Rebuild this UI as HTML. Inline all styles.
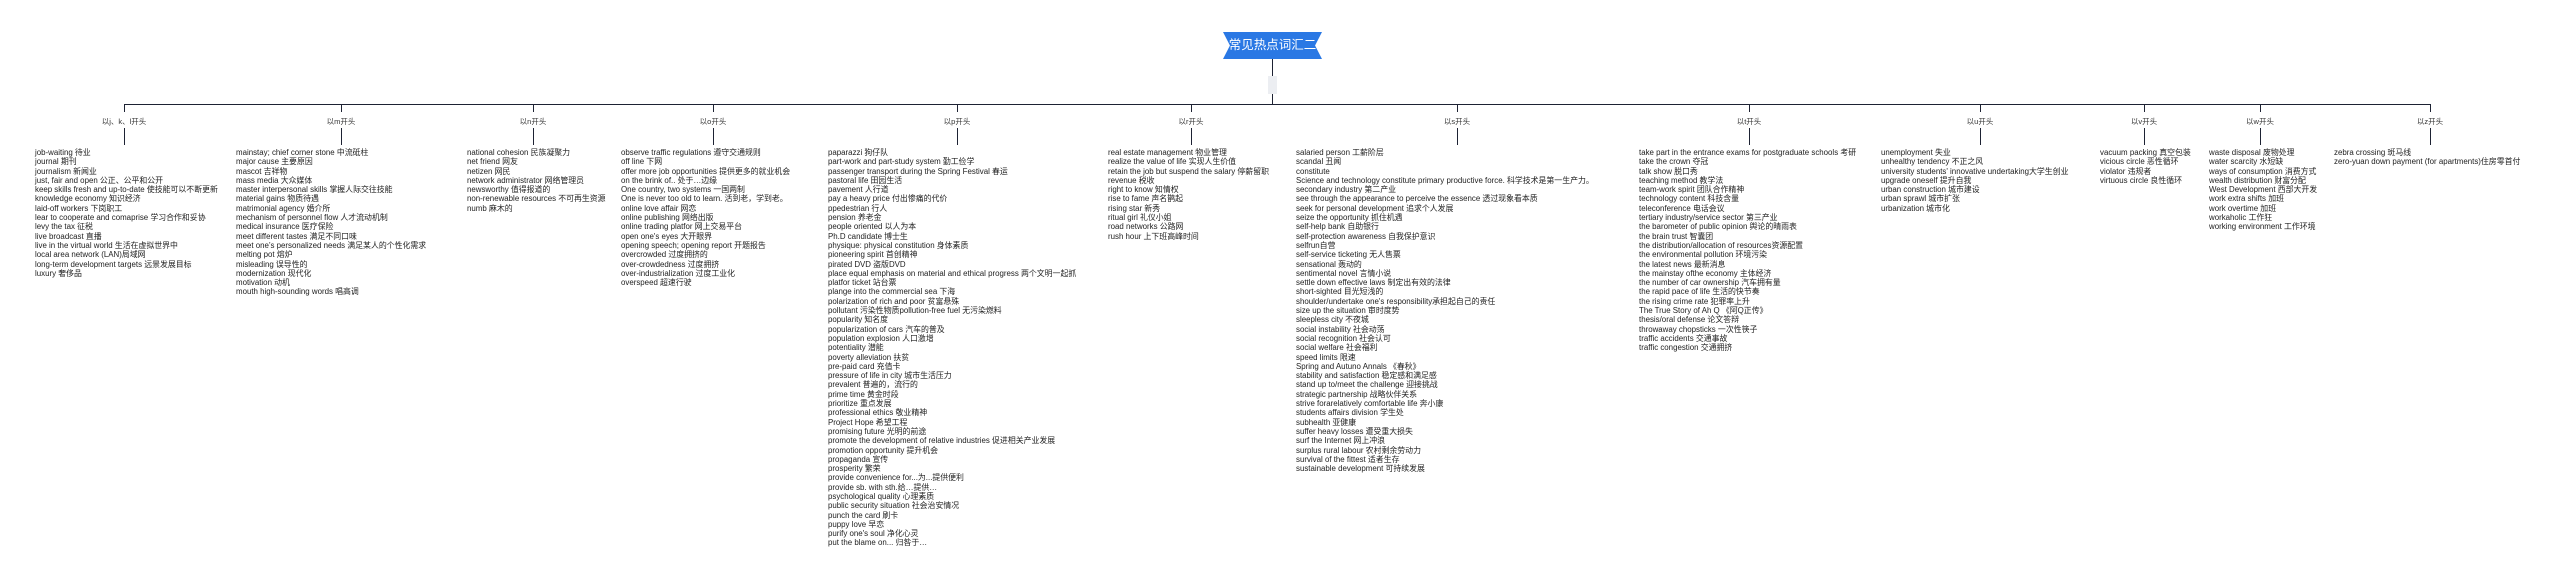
<!DOCTYPE html>
<html><head><meta charset="utf-8"><style>
body{margin:0;width:2560px;height:583px;background:#fff;position:relative;overflow:hidden;font-family:"Liberation Sans","Noto Sans CJK SC",sans-serif;}
.h{position:absolute;background:#1d2233;}
.lb{position:absolute;font-size:7.5px;color:#333;transform:translateX(-50%);white-space:nowrap;top:116px;}
.col{position:absolute;top:148px;font-size:7.9px;line-height:9.3px;color:#222;white-space:nowrap;}
.root{position:absolute;left:1223px;top:32px;width:99px;height:27px;background:#2a78e4;color:#fff;font-size:12.5px;line-height:27px;text-align:center;clip-path:polygon(0 0,100% 0,93% 50%,100% 100%,0 100%,7% 50%);}
</style></head><body>
<div class="root">常见热点词汇二</div>
<div class="h" style="left:1272px;top:59px;width:1px;height:45px"></div>
<div style="position:absolute;left:1268px;top:76px;width:9px;height:18px;background:#eceef2"></div>
<div class="h" style="left:124px;top:104px;width:2307px;height:1px"></div>

<div class="h" style="left:124px;top:104px;width:1px;height:8px"></div><div class="h" style="left:124px;top:128px;width:1px;height:17px"></div><div class="lb" style="left:124px">以j、k、l开头</div>
<div class="h" style="left:341px;top:104px;width:1px;height:8px"></div><div class="h" style="left:341px;top:128px;width:1px;height:17px"></div><div class="lb" style="left:341px">以m开头</div>
<div class="h" style="left:533px;top:104px;width:1px;height:8px"></div><div class="h" style="left:533px;top:128px;width:1px;height:17px"></div><div class="lb" style="left:533px">以n开头</div>
<div class="h" style="left:713px;top:104px;width:1px;height:8px"></div><div class="h" style="left:713px;top:128px;width:1px;height:17px"></div><div class="lb" style="left:713px">以o开头</div>
<div class="h" style="left:957px;top:104px;width:1px;height:8px"></div><div class="h" style="left:957px;top:128px;width:1px;height:17px"></div><div class="lb" style="left:957px">以p开头</div>
<div class="h" style="left:1191px;top:104px;width:1px;height:8px"></div><div class="h" style="left:1191px;top:128px;width:1px;height:17px"></div><div class="lb" style="left:1191px">以r开头</div>
<div class="h" style="left:1457px;top:104px;width:1px;height:8px"></div><div class="h" style="left:1457px;top:128px;width:1px;height:17px"></div><div class="lb" style="left:1457px">以s开头</div>
<div class="h" style="left:1749px;top:104px;width:1px;height:8px"></div><div class="h" style="left:1749px;top:128px;width:1px;height:17px"></div><div class="lb" style="left:1749px">以t开头</div>
<div class="h" style="left:1980px;top:104px;width:1px;height:8px"></div><div class="h" style="left:1980px;top:128px;width:1px;height:17px"></div><div class="lb" style="left:1980px">以u开头</div>
<div class="h" style="left:2144px;top:104px;width:1px;height:8px"></div><div class="h" style="left:2144px;top:128px;width:1px;height:17px"></div><div class="lb" style="left:2144px">以v开头</div>
<div class="h" style="left:2260px;top:104px;width:1px;height:8px"></div><div class="h" style="left:2260px;top:128px;width:1px;height:17px"></div><div class="lb" style="left:2260px">以w开头</div>
<div class="h" style="left:2430px;top:104px;width:1px;height:8px"></div><div class="h" style="left:2430px;top:128px;width:1px;height:17px"></div><div class="lb" style="left:2430px">以z开头</div>

<div class="col" style="left:35px">job-waiting 待业<br>journal 期刊<br>journalism 新闻业<br>just, fair and open 公正、公平和公开<br>keep skills fresh and up-to-date 使技能可以不断更新<br>knowledge economy 知识经济<br>laid-off workers 下岗职工<br>lear to cooperate and comaprise 学习合作和妥协<br>levy the tax 征税<br>live broadcast 直播<br>live in the virtual world 生活在虚拟世界中<br>local area network (LAN)局域网<br>long-term development targets 远景发展目标<br>luxury 奢侈品</div>

<div class="col" style="left:236px">mainstay; chief corner stone 中流砥柱<br>major cause 主要原因<br>mascot 吉祥物<br>mass media 大众媒体<br>master interpersonal skills 掌握人际交往技能<br>material gains 物质待遇<br>matrimonial agency 婚介所<br>mechanism of personnel flow 人才流动机制<br>medical insurance 医疗保险<br>meet different tastes 满足不同口味<br>meet one’s personalized needs 满足某人的个性化需求<br>melting pot 熔炉<br>misleading 误导性的<br>modernization 现代化<br>motivation 动机<br>mouth high-sounding words 唱高调</div>

<div class="col" style="left:467px">national cohesion 民族凝聚力<br>net friend 网友<br>netizen 网民<br>network administrator 网络管理员<br>newsworthy 值得报道的<br>non-renewable resources 不可再生资源<br>numb 麻木的</div>

<div class="col" style="left:621px">observe traffic regulations 遵守交通规则<br>off line 下网<br>offer more job opportunities 提供更多的就业机会<br>on the brink of.. 处于…边缘<br>One country, two systems 一国两制<br>One is never too old to learn. 活到老，学到老。<br>online love affair 网恋<br>online publishing 网络出版<br>online trading platfor 网上交易平台<br>open one's eyes 大开眼界<br>opening speech; opening report 开题报告<br>overcrowded 过度拥挤的<br>over-crowdedness 过度拥挤<br>over-industrialization 过度工业化<br>overspeed 超速行驶</div>

<div class="col" style="left:828px">paparazzi 狗仔队<br>part-work and part-study system 勤工俭学<br>passenger transport during the Spring Festival 春运<br>pastoral life 田园生活<br>pavement 人行道<br>pay a heavy price 付出惨痛的代价<br>ppedestrian 行人<br>pension 养老金<br>people oriented 以人为本<br>Ph.D candidate 博士生<br>physique: physical constitution 身体素质<br>pioneering spirit 首创精神<br>pirated DVD 盗版DVD<br>place equal emphasis on material and ethical progress 两个文明一起抓<br>platfor ticket 站台票<br>plange into the commercial sea 下海<br>polarization of rich and poor 贫富悬殊<br>pollutant 污染性物质pollution-free fuel 无污染燃料<br>popularity 知名度<br>popularization of cars 汽车的普及<br>population explosion 人口激增<br>potentiality 潜能<br>poverty alleviation 扶贫<br>pre-paid card 充值卡<br>pressure of life in city 城市生活压力<br>prevalent 普遍的，流行的<br>prime time 黄金时段<br>prioritize 重点发展<br>professional ethics 敬业精神<br>Project Hope 希望工程<br>promising future 光明的前途<br>promote the development of relative industries 促进相关产业发展<br>promotion opportunity 提升机会<br>propaganda 宣传<br>prosperity 繁荣<br>provide convenience for...为...提供便利<br>provide sb. with sth.给…提供…<br>psychological quality 心理素质<br>public security situation 社会治安情况<br>punch the card 刷卡<br>puppy love 早恋<br>purify one's soul 净化心灵<br>put the blame on... 归咎于…</div>

<div class="col" style="left:1108px">real estate management 物业管理<br>realize the value of life 实现人生价值<br>retain the job but suspend the salary 停薪留职<br>revenue 税收<br>right to know 知情权<br>rise to fame 声名鹊起<br>rising star 新秀<br>ritual girl 礼仪小姐<br>road networks 公路网<br>rush hour 上下班高峰时间</div>

<div class="col" style="left:1296px">salaried person 工薪阶层<br>scandal 丑闻<br>constitute<br>Science and technology constitute primary productive force. 科学技术是第一生产力。<br>secondary industry 第二产业<br>see through the appearance to perceive the essence 透过现象看本质<br>seek for personal development 追求个人发展<br>seize the opportunity 抓住机遇<br>self-help bank 自助银行<br>self-protection awareness 自我保护意识<br>selfrun自营<br>self-service ticketing 无人售票<br>sensational 轰动的<br>sentimental novel 言情小说<br>settle down effective laws 制定出有效的法律<br>short-sighted 目光短浅的<br>shoulder/undertake one's responsibility承担起自己的责任<br>size up the situation 审时度势<br>sleepless city 不夜城<br>social instability 社会动荡<br>social recognition 社会认可<br>social welfare 社会福利<br>speed limits 限速<br>Spring and Autuno Annals 《春秋》<br>stability and satisfaction 稳定感和满足感<br>stand up to/meet the challenge 迎接挑战<br>strategic partnership 战略伙伴关系<br>strive forarelatively comfortable life 奔小康<br>students affairs division 学生处<br>subhealth 亚健康<br>suffer heavy losses 遭受重大损失<br>surf the Internet 网上冲浪<br>surplus rural labour 农村剩余劳动力<br>survival of the fittest 适者生存<br>sustainable development 可持续发展</div>

<div class="col" style="left:1639px">take part in the entrance exams for postgraduate schools 考研<br>take the crown 夺冠<br>talk show 脱口秀<br>teaching method 教学法<br>team-work spirit 团队合作精神<br>technology content 科技含量<br>teleconference 电话会议<br>tertiary industry/service sector 第三产业<br>the barometer of public opinion 舆论的晴雨表<br>the brain trust 智囊团<br>the distribution/allocation of resources资源配置<br>the environmental pollution 环境污染<br>the latest news 最新消息<br>the mainstay ofthe economy 主体经济<br>the number of car ownership 汽车拥有量<br>the rapid pace of life 生活的快节奏<br>the rising crime rate 犯罪率上升<br>The True Story of Ah Q 《阿Q正传》<br>thesis/oral defense 论文答辩<br>throwaway chopsticks 一次性筷子<br>traffic accidents 交通事故<br>traffic congestion 交通拥挤</div>

<div class="col" style="left:1881px">unemployment 失业<br>unhealthy tendency 不正之风<br>university students' innovative undertaking大学生创业<br>upgrade oneself 提升自我<br>urban construction 城市建设<br>urban sprawl 城市扩张<br>urbanization 城市化</div>

<div class="col" style="left:2100px">vacuum packing 真空包装<br>vicious circle 恶性循环<br>violator 违规者<br>virtuous circle 良性循环</div>

<div class="col" style="left:2209px">waste disposal 废物处理<br>water scarcity 水短缺<br>ways of consumption 消费方式<br>wealth distribution 财富分配<br>West Development 西部大开发<br>work extra shifts 加班<br>work overtime 加班<br>workaholic 工作狂<br>working environment 工作环境</div>

<div class="col" style="left:2334px">zebra crossing 斑马线<br>zero-yuan down payment (for apartments)住房零首付</div>
</body></html>
